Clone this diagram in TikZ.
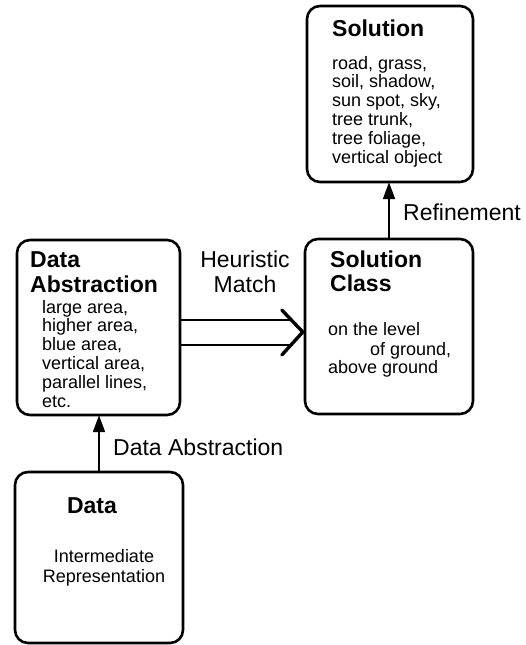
\documentclass[tikz,border=0pt]{standalone}
\usepackage{fontspec}
\setmainfont{Liberation Sans}
\usetikzlibrary{arrows.meta,calc}
\begin{document}
\begin{tikzpicture}[x=1pt,y=-1pt,
  box/.style={draw, line width=2.6pt, rounded corners=13pt},
  ttl/.style={font=\fontsize{23}{23.5}\selectfont\bfseries, inner sep=0pt, anchor=base west, align=left},
  body/.style={font=\fontsize{18}{18.8}\selectfont, inner sep=0pt, anchor=base west, align=left},
  lbl/.style={font=\fontsize{23}{25}\selectfont, inner sep=0pt, anchor=base west, align=left},
  conn/.style={line width=2pt, -{Triangle[length=17pt,width=12pt]}},
  dbl/.style={line width=2.2pt}]
\useasboundingbox (0,0) rectangle (526,645);
% boxes
\node[inner sep=0pt, minimum width=166pt, minimum height=176pt] (sol) at (390,94) {};
\draw[box] (307,6) rectangle (473,182);
\node[inner sep=0pt, minimum width=168pt, minimum height=175pt] (cls) at (389,326.5) {};
\draw[box] (305,239) rectangle (473,414);
\node[inner sep=0pt, minimum width=163pt, minimum height=175pt] (abs) at (98.5,327.5) {};
\draw[box] (17,240) rectangle (180,415);
\node[inner sep=0pt, minimum width=168pt, minimum height=171pt] (dat) at (99,557.5) {};
\draw[box] (15,472) rectangle (183,643);
% texts (multi-line nodes: base = last line's baseline)
\node[ttl] (solt) at (332,36) {Solution};
\node[body] (solb) at (332,163) {road, grass,\\soil, shadow,\\sun spot, sky,\\tree trunk,\\tree foliage,\\vertical object};
\node[ttl] (clst) at (330,291) {Solution\\[0.5pt]Class};
\node[body] (clsb1) at (328,335) {on the level};
\node[body] (clsb2) at (370,355) {of ground,};
\node[body] (clsb3) at (328,373) {above ground};
\node[ttl] (abst) at (30,292) {Data\\[1pt]Abstraction};
\node[body] (absb) at (42,407) {large area,\\higher area,\\blue area,\\vertical area,\\parallel lines,\\etc.};
\node[ttl, anchor=base] (datt) at (92,513) {Data};
\node[body, anchor=base, align=center, font=\fontsize{18}{20}\selectfont] (datb) at (104,582) {Intermediate\\Representation};
% labels
\node[lbl, anchor=base, align=center] (heur) at (245,292) {Heuristic\\Match};
\node[lbl] (refl) at (403,220) {Refinement};
\node[lbl] (dabl) at (113,455) {Data Abstraction};
% connectors
\draw[conn] (dat.north -| 99,0) -- (abs.south -| 99,0);
\draw[conn] (cls.north -| 389,0) -- (sol.south -| 389,0);
\draw[dbl] (abs.east |- 0,320) -- ($(cls.west |- 0,320)+(-12,0)$);
\draw[dbl] (abs.east |- 0,345) -- ($(cls.west |- 0,345)+(-12,0)$);
\draw[line width=3.4pt, line cap=round] ($(cls.west |- 0,332)+(-23,-22)$) -- ($(cls.west |- 0,332)+(-2,0)$) -- ($(cls.west |- 0,332)+(-23,23)$);
\end{tikzpicture}
\end{document}
